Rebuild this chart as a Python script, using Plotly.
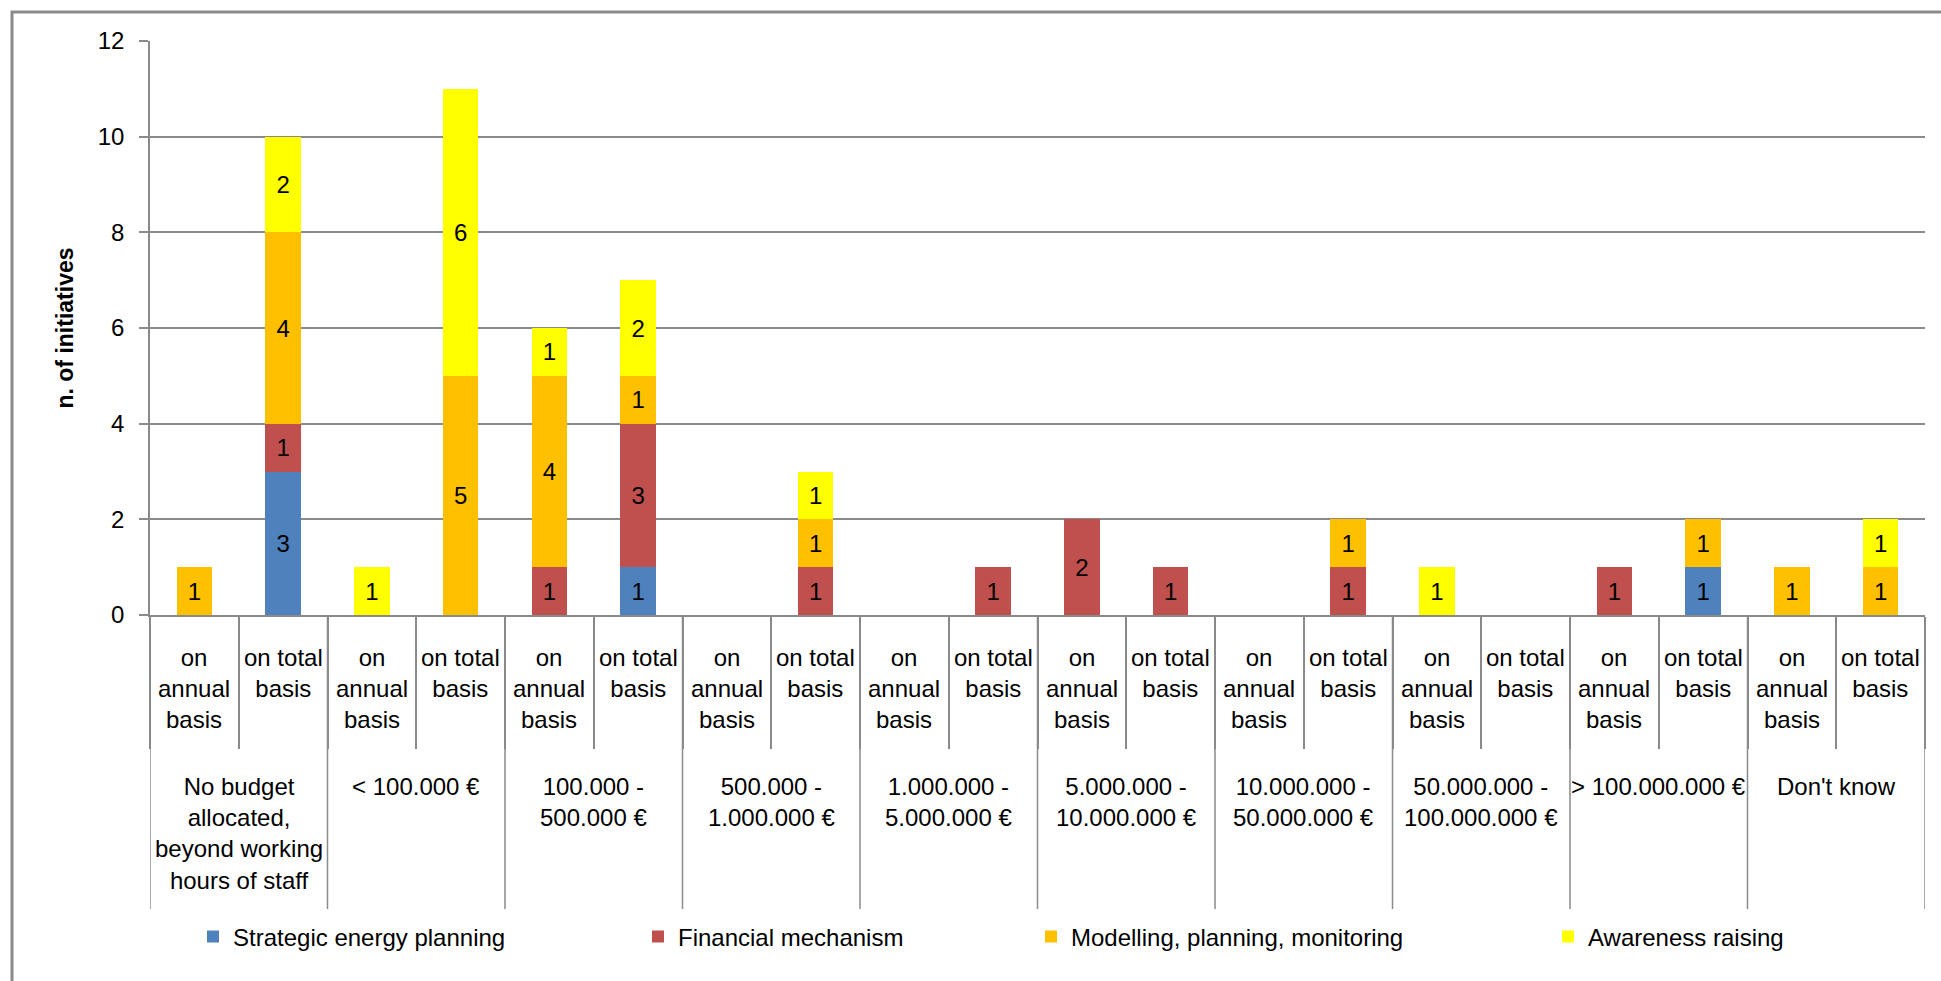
import plotly.graph_objects as go

# budget groups and the two sub categories inside each group
groups = ['No budget<br>allocated,<br>beyond working<br>hours of staff', '< 100.000 €',
          '100.000 -<br>500.000 €', '500.000 -<br>1.000.000 €', '1.000.000 -<br>5.000.000 €',
          '5.000.000 -<br>10.000.000 €', '10.000.000 -<br>50.000.000 €',
          '50.000.000 -<br>100.000.000 €', '> 100.000.000 €', "Don't know"]
subs = ['on<br>annual<br>basis', 'on total<br>basis']

# values per bar (20 bars: annual / total for each group)
strategic = [0, 3, 0, 0, 0, 1, 0, 0, 0, 0, 0, 0, 0, 0, 0, 0, 0, 1, 0, 0]
financial = [0, 1, 0, 0, 1, 3, 0, 1, 0, 1, 2, 1, 0, 1, 0, 0, 1, 0, 0, 0]
modelling = [1, 4, 0, 5, 4, 1, 0, 1, 0, 0, 0, 0, 0, 1, 0, 0, 0, 1, 1, 1]
awareness = [0, 2, 1, 6, 1, 2, 0, 1, 0, 0, 0, 0, 0, 0, 1, 0, 0, 0, 0, 1]

series = [('Strategic energy planning', strategic, '#4F81BD'),
          ('Financial mechanism', financial, '#C0504D'),
          ('Modelling, planning, monitoring', modelling, '#FFC000'),
          ('Awareness raising', awareness, '#FFFF00')]

FONT = 'Liberation Sans, Arial, sans-serif'
FS = 24
GREY = '#8a8a8a'

# plot area in pixels
PL, PR, PT, PB = 150, 1925, 41, 615


def px_x(px):
    return (px - PL) / (PR - PL)


def px_y(py):
    return (PB - py) / (PB - PT)


n = len(groups) * len(subs)
xs = list(range(n))

fig = go.Figure()
legend_ids = ['legend', 'legend2', 'legend3', 'legend4']
for (name, vals, color), lg in zip(series, legend_ids):
    fig.add_trace(go.Bar(
        x=xs, y=vals, name=name, marker=dict(color=color, line=dict(width=0)),
        text=[str(v) if v else '' for v in vals], textposition='inside',
        insidetextanchor='middle', textangle=0,
        textfont=dict(family=FONT, size=FS, color='black'),
        legend=lg))

annotations = []
# sub category labels
for i in xs:
    annotations.append(dict(x=i, y=px_y(642), xref='x', yref='paper', text=subs[i % 2],
                            showarrow=False, yanchor='top', xanchor='center',
                            font=dict(family=FONT, size=FS, color='black')))
# group labels
for g, label in enumerate(groups):
    annotations.append(dict(x=2 * g + 0.5, y=px_y(771), xref='x', yref='paper', text=label,
                            showarrow=False, yanchor='top', xanchor='center',
                            font=dict(family=FONT, size=FS, color='black')))

shapes = []
# long separators between groups
for g in range(len(groups) + 1):
    shapes.append(dict(type='line', xref='x', yref='paper', x0=2 * g - 0.5, x1=2 * g - 0.5,
                       y0=0, y1=px_y(909), line=dict(color=GREY, width=1.5)))
# outer chart frame
shapes.append(dict(type='rect', xref='paper', yref='paper', x0=px_x(12), x1=px_x(1990),
                   y0=px_y(1030), y1=px_y(12), line=dict(color=GREY, width=3)))

legend_text_x = [233, 678, 1071, 1588]
legends = {}
for lg, tx in zip(legend_ids, legend_text_x):
    legends[lg] = dict(x=px_x(tx - 40), y=px_y(937), xref='paper', yref='paper',
                       xanchor='left', yanchor='middle', orientation='h',
                       font=dict(family=FONT, size=FS, color='black'),
                       bgcolor='rgba(0,0,0,0)')

fig.update_layout(
    barmode='stack', bargap=0.6,
    width=1941, height=981,
    margin=dict(l=PL, r=1941 - PR, t=PT, b=981 - PB, autoexpand=False),
    plot_bgcolor='white', paper_bgcolor='white',
    font=dict(family=FONT, size=FS, color='black'),
    annotations=annotations, shapes=shapes,
    showlegend=True,
    **legends,
)

fig.update_xaxes(range=[-0.5, n - 0.5], showgrid=False, zeroline=False,
                 showline=True, linecolor=GREY, linewidth=1.5,
                 tickmode='array', tickvals=[i - 0.5 for i in range(n + 1)],
                 ticktext=[''] * (n + 1), ticks='outside', ticklen=132,
                 tickcolor=GREY, tickwidth=1.5)
fig.update_yaxes(range=[0, 12], dtick=2, showgrid=True, gridcolor=GREY, gridwidth=2,
                 zeroline=False, showline=True, linecolor=GREY, linewidth=1.5,
                 ticks='outside', ticklen=9, tickcolor=GREY, tickwidth=1.5,
                 ticklabelstandoff=10,
                 tickfont=dict(family=FONT, size=FS, color='black'),
                 title=dict(text='<b>n. of initiatives</b>', standoff=18,
                            font=dict(family=FONT, size=23, color='black')))

fig.write_html("out.html", config={'displayModeBar': False},
               post_script="document.body.style.margin='0';")
